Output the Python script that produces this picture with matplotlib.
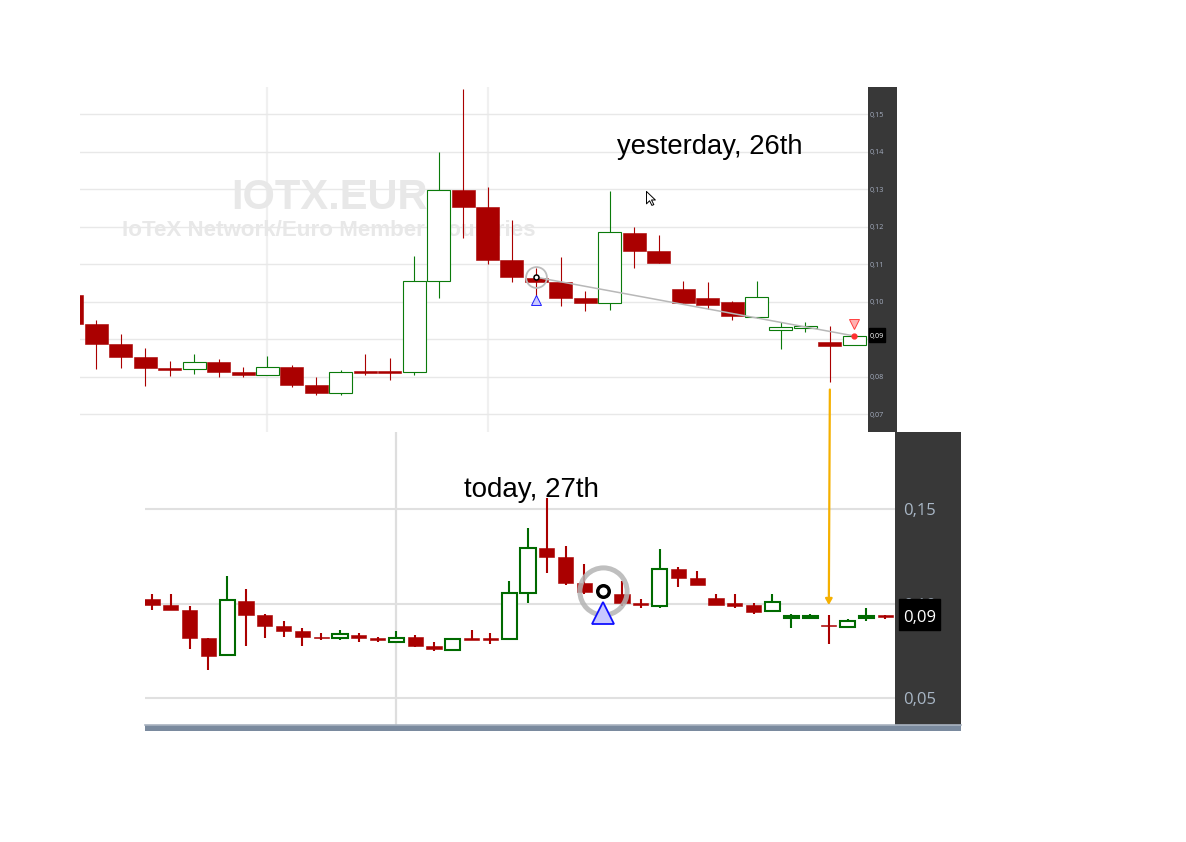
import numpy as np
import matplotlib
matplotlib.use('Agg')
import matplotlib.pyplot as plt
from matplotlib.patches import Rectangle

# yesterday panel (candle 0 is cut by the left edge)
top_open = [.10182, .09409, .08866, .08529, .08226, .08200, .08395, .08138, .08058, .08253, .07782,
            .07560, .08147, .08147, .08120, .10546, .12973, .12538, .11107, .10644, .10520, .10102,
            .09960, .11827, .11356, .10333, .10102, .09987, .09604, .09240, .09311, .08920, .08840]
top_close = [.09418, .08866, .08538, .08226, .08182, .08386, .08138, .08049, .08262, .07782, .07578,
             .08129, .08102, .08102, .10546, .12973, .12538, .11116, .10653, .10520, .10102, .09969,
             .11853, .11356, .11027, .09969, .09906, .09622, .10120, .09320, .09347, .08831, .09080]
top_high = [.10320, .09516, .09142, .08760, .08422, .08600, .08467, .08253, .08555, .08315, .07996,
            .08182, .08600, .08493, .11222, .13996, .15667, .13053, .12182, .10900, .11195, .10289,
            .12955, .11995, .11791, .10555, .10520, .10031, .10555, .09453, .09453, .09347, .09080]
top_low = [.09418, .08209, .08244, .07747, .08022, .08084, .08004, .07987, .08058, .07729, .07516,
           .07516, .08058, .07924, .08049, .10102, .11711, .11009, .10520, .10093, .09898, .09755,
           .09773, .10911, .11027, .09969, .09809, .09507, .09560, .08751, .09204, .07871, .08840]

# today panel, candle 24 is hidden by the signal marker
low_open = [.10239, .09920, .09655, .08168, .07248, .10133, .09389, .08805, .08540, .08221, .08186,
            .08327, .08168, .07973, .08221, .07743, .07513, .08168, .08168, .08097, .10540, .12947,
            .12469, .11089, np.nan, .10504, .10027, .09885, .11832, .11354, .10292, .10027, .09920,
            .09584, .09250, .09250, .08876, .08735, .09250, .09372]
low_close = [.09920, .09655, .08168, .07212, .10203, .09389, .08805, .08540, .08221, .08168, .08398,
             .08168, .08080, .08186, .07743, .07584, .08133, .08080, .08080, .10575, .12929, .12469,
             .11089, .10611, np.nan, .10027, .09938, .11814, .11354, .10982, .09920, .09867, .09549,
             .10097, .09320, .09320, .08823, .09053, .09320, .09283]
low_high = [.10504, .10504, .09867, .08168, .11460, .10770, .09442, .09071, .08699, .08434, .08593,
            .08434, .08221, .08540, .08327, .07956, .08133, .08593, .08434, .11195, .14009, .15602,
            .13053, .12097, np.nan, .11195, .10239, .12894, .11938, .11726, .10504, .10504, .10027,
            .10504, .09442, .09442, .09389, .09177, .09761, .09372]
low_low = [.09655, .09655, .07584, .06469, .07248, .07743, .08168, .08221, .07743, .08062, .08062,
           .07956, .07956, .07973, .07690, .07478, .07513, .08080, .07849, .08097, .10027, .11620,
           .10982, .10504, np.nan, .09867, .09761, .09778, .10876, .10982, .09920, .09761, .09442,
           .09584, .08699, .09195, .07849, .08735, .09088, .09177]

top_ticks = [.07, .08, .09, .10, .11, .12, .13, .14, .15]
top_labels = ['0,07', '0,08', '', '0,10', '0,11', '0,12', '0,13', '0,14', '0,15']
low_ticks = [.05, .15]
low_labels = ['0,05', '0,15']
last_price = .0934

RED = '#aa0000'
W, H = 1186, 842


def add_axes(x0, y0, x1, y1):
    return fig.add_axes([x0 / W, 1 - y1 / H, (x1 - x0) / W, (y1 - y0) / H])


def candles(ax, o, c, hi, lo, width, lw, green):
    x = np.arange(len(o))
    o, c = np.array(o), np.array(c)
    up = c > o
    colors = [green if u else RED for u in up]
    ax.vlines(x, lo, hi, colors=colors, lw=lw, zorder=3)
    ax.bar(x[~up], (o - c)[~up], width, c[~up], color=RED, edgecolor=RED, lw=0.4, zorder=4)
    ax.bar(x[up], (c - o)[up], width, o[up], color='white', edgecolor=green, lw=lw, zorder=4)


def setup(ax, xlim, ylim, ticks, grid_color, grid_lw):
    ax.set_xlim(*xlim)
    ax.set_ylim(*ylim)
    ax.set_yticks(ticks)
    ax.set_xticks([])
    ax.tick_params(left=False, labelleft=False)
    ax.grid(axis='y', color=grid_color, lw=grid_lw, zorder=0)
    for s in ax.spines.values():
        s.set_visible(False)


def price_strip(ax, ticks, labels, last, box_x, box_y, size, color, xpos):
    ax.set_facecolor('#383838')
    ax.set_xticks([])
    ax.set_yticks([])
    for s in ax.spines.values():
        s.set_visible(False)
    trans = ax.get_yaxis_transform()
    for v, lab in zip(ticks, labels):
        ax.text(xpos, v, lab, color=color, fontsize=size, va='center_baseline', transform=trans)
    ax.add_patch(Rectangle((box_x[0], box_y[0]), box_x[1] - box_x[0], box_y[1] - box_y[0],
                           color='black', transform=trans, zorder=5))
    ax.text(xpos, last, '0,09', color='white', fontsize=size, va='center_baseline', transform=trans, zorder=6)


plt.rcParams['font.family'] = ['Open Sans', 'DejaVu Sans']
fig = plt.figure(figsize=(W / 100, H / 100), dpi=100)

# yesterday
ax1 = add_axes(80, 87, 868, 432)
setup(ax1, (0.333, 32.56), (.06528, .15728), top_ticks, '#e8e8e8', 1.0)
for v in [8.0, 17.0]:
    ax1.axvline(v, color='#f0f0f0', lw=1.6, zorder=1)
ax1.text(10.55, .1278, 'IOTX.EUR', color='#e8e8e8', fontsize=30, fontweight='bold', family='Liberation Sans',
         ha='center', va='center', zorder=1)
ax1.text(10.5, .1190, 'IoTeX Network/Euro Member Countries', color='#e8e8e8', fontsize=16.1, fontweight='bold',
         family='Liberation Sans', ha='center', va='center', zorder=1)
candles(ax1, top_open, top_close, top_high, top_low, 0.94, 0.8, '#0a7a0a')
ax1.plot([19, 32], [.10653, .09089], color='#b8b8b8', lw=1.1, zorder=5)
ax1.plot(19, .10653, 'o', mfc='none', mec='#bdbdbd', ms=15, mew=1.3, zorder=6)
ax1.plot(19, .10653, 'o', mfc='white', mec='black', ms=3.6, mew=1.1, zorder=6)
ax1.plot(19, .10054, '^', mfc='#c8c8ff', mec='#2020ff', ms=6.5, mew=0.7, zorder=6)
ax1.plot(32, .09400, 'v', mfc='#ffb0b0', mec='#ff4040', ms=7, mew=0.7, zorder=6)
ax1.plot(32, .09089, 'o', mfc='#ff3030', mec='#ff3030', ms=3.5, zorder=6)
ax1.text(22.3, .1413, 'yesterday, 26th', color='black', fontsize=19.7, family='Liberation Sans',
         ha='left', va='center', zorder=7)
# mouse pointer
pointer = [(0, 0), (0, -16), (4, -12), (7, -18), (9.5, -17), (6.5, -11), (11.5, -11), (0, 0)]
ax1.plot(23.48, .12955, marker=pointer, ms=20, mfc='white', mec='black', mew=0.7, zorder=7)

strip1 = add_axes(868, 87, 897, 432)
strip1.set_ylim(.06528, .15728)
price_strip(strip1, top_ticks, top_labels, .0911, (0.03, 0.59), (.08928, .09301), 5.2, '#a4adbf', 0.07)

# today
ax2 = add_axes(145, 432, 895, 725)
setup(ax2, (-0.372, 39.52), (.03551, .19103), [.05, .10, .15], '#e0e0e0', 1.5)
ax2.axvline(13, color='#dedede', lw=1.6, zorder=1)
candles(ax2, low_open, low_close, low_high, low_low, 0.8, 1.5, '#006a00')
ax2.plot(24, .1066, 'o', mfc='none', mec='#b4b4b4', ms=34, mew=3.6, zorder=6, alpha=0.85)
ax2.plot(24, .1066, 'o', mfc='white', mec='black', ms=8.3, mew=2.5, zorder=7)
ax2.plot(24, .0948, '^', mfc='#c8c8ff', mec='#1010ff', ms=16.5, mew=1.3, zorder=7)
ax2.text(16.6, .1602, 'today, 27th', color='black', fontsize=20, family='Liberation Sans',
         ha='left', va='center', zorder=7)

strip2 = add_axes(895, 432, 961, 725)
strip2.set_ylim(.03551, .19103)
# the 0,10 label sits behind the black price box
strip2.text(0.12, .10, '0,10', color='#a9b7c6', fontsize=12, va='center_baseline',
            transform=strip2.get_yaxis_transform())
price_strip(strip2, low_ticks, low_labels, last_price, (0.06, 0.68), (.08594, .10239), 12, '#a9b7c6', 0.12)

bar = add_axes(145, 725, 961, 731)
bar.set_facecolor('#7a8a9e')
bar.set_xticks([])
bar.set_yticks([])
for s in bar.spines.values():
    s.set_visible(False)
bar.spines['top'].set_visible(True)
bar.spines['top'].set_color('#a9b3c0')
bar.spines['top'].set_linewidth(1.2)

# orange arrow joining the two panels
ax2.annotate('', xy=(36, .0992), xycoords=ax2.transData, xytext=(31, .0766), textcoords=ax1.transData,
             arrowprops=dict(arrowstyle='-|>,head_length=0.35,head_width=0.2', color='#f5b000', lw=1.6,
                             shrinkA=0, shrinkB=0), zorder=8, annotation_clip=False)

fig.savefig('out.png', dpi=100)
